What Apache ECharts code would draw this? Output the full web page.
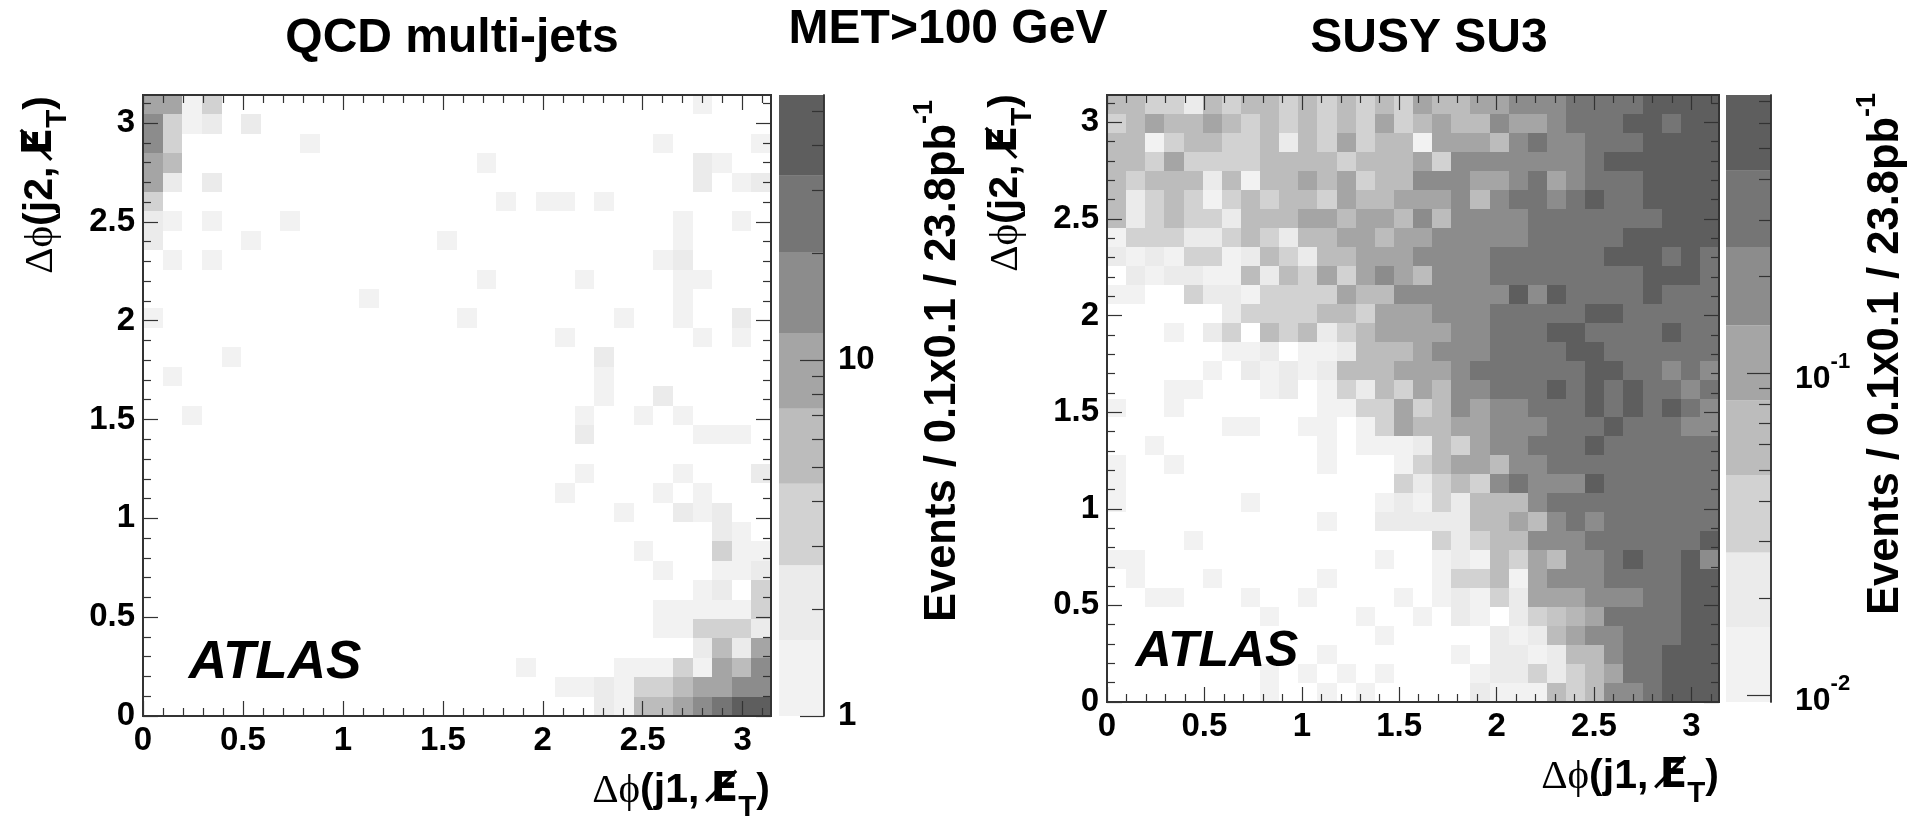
<!DOCTYPE html>
<html><head><meta charset="utf-8">
<style>html,body{margin:0;padding:0;background:#fff}#c{width:1927px;height:827px}</style>
<script src="https://cdn.jsdelivr.net/npm/echarts@6/dist/echarts.min.js"></script>
</head><body><div id="c"></div>
<script>
// Grey shade of each contour band (0 = empty bin)
const bandShades = [255, 242, 235, 210, 188, 165, 140, 117, 94];
const binCount = 32;
const phiMax = Math.PI;
const majorTicks = [0, 0.5, 1, 1.5, 2, 2.5, 3];
const minorTicks = [0.1,0.2,0.3,0.4,0.6,0.7,0.8,0.9,1.1,1.2,1.3,1.4,1.6,1.7,1.8,1.9,2.1,2.2,2.3,2.4,2.6,2.7,2.8,2.9,3.1];

// QCD: non-empty bins as [column, row from top, band]
const qcdBins = [
[0,0,5],[1,0,5],[2,0,1],[3,0,3],[28,0,1],
[0,1,6],[1,1,3],[2,1,1],[3,1,2],[5,1,2],
[0,2,6],[1,2,3],[8,2,1],[26,2,1],[31,2,1],
[0,3,5],[1,3,4],[17,3,1],[28,3,2],[29,3,1],
[0,4,5],[1,4,2],[3,4,2],[28,4,2],[30,4,1],[31,4,2],
[0,5,3],[18,5,1],[20,5,1],[21,5,1],[23,5,1],
[0,6,2],[1,6,1],[3,6,1],[7,6,1],[27,6,1],[30,6,1],
[0,7,2],[5,7,1],[15,7,1],[27,7,1],
[1,8,1],[3,8,1],[26,8,1],[27,8,2],
[17,9,1],[22,9,1],[27,9,1],[28,9,1],
[11,10,1],[27,10,1],
[0,11,1],[16,11,1],[24,11,1],[27,11,1],[30,11,2],
[21,12,1],[28,12,1],[30,12,1],
[4,13,1],[23,13,2],
[1,14,1],[23,14,1],
[23,15,1],[26,15,2],
[2,16,1],[22,16,1],[25,16,1],[27,16,1],
[22,17,2],[28,17,1],[29,17,1],[30,17,1],
[22,19,1],[27,19,1],[31,19,2],
[21,20,1],[26,20,1],[28,20,1],
[24,21,1],[27,21,2],[28,21,1],[29,21,2],
[29,22,2],[30,22,1],
[25,23,1],[29,23,3],[30,23,1],[31,23,1],
[26,24,1],[29,24,1],[30,24,1],[31,24,2],
[28,25,1],[29,25,2],[31,25,3],
[26,26,1],[27,26,1],[28,26,1],[29,26,1],[30,26,1],[31,26,3],
[26,27,1],[27,27,1],[28,27,3],[29,27,3],[30,27,3],[31,27,2],
[28,28,2],[29,28,4],[30,28,2],[31,28,5],
[19,29,1],[24,29,1],[25,29,1],[26,29,1],[27,29,3],[28,29,1],[29,29,5],[30,29,4],[31,29,6],
[21,30,1],[22,30,1],[23,30,2],[24,30,1],[25,30,3],[26,30,3],[27,30,4],[28,30,5],[29,30,5],[30,30,6],[31,30,6],
[23,31,2],[24,31,1],[25,31,4],[26,31,4],[27,31,5],[28,31,6],[29,31,7],[30,31,8],[31,31,8]
];

// SUSY: band of every bin, top row first
const susyRows = [
[4,4,3,3,2,4,3,4,4,3,4,3,4,3,4,3,5,4,4,5,5,6,6,6,7,7,7,7,8,8,8,8],
[3,4,5,4,4,5,4,3,4,3,4,3,4,3,5,3,4,5,4,4,6,5,5,6,7,7,7,8,8,7,8,8],
[4,4,1,3,4,4,3,3,4,2,4,3,5,3,4,4,1,5,5,5,4,6,7,6,6,7,7,7,8,8,8,8],
[4,4,3,5,3,3,3,3,4,4,4,4,3,4,4,4,5,3,6,6,6,6,6,6,6,7,8,8,8,8,8,8],
[4,3,4,4,4,2,4,1,4,4,5,4,5,3,4,4,6,6,6,5,5,6,7,5,6,7,7,7,8,8,8,8],
[4,2,3,4,3,1,3,4,3,4,4,3,5,4,4,5,5,5,6,4,6,7,7,6,7,8,7,7,8,8,8,8],
[4,2,3,4,3,3,2,4,4,4,5,5,4,5,5,4,6,4,6,6,6,6,7,7,7,7,7,7,7,8,8,8],
[1,3,3,3,2,2,3,4,3,2,4,4,5,5,4,5,5,6,6,6,6,6,7,7,7,7,7,8,8,8,8,8],
[2,1,2,1,3,3,1,2,4,3,2,4,4,5,5,5,6,6,6,6,7,7,7,7,7,7,8,8,8,7,8,7],
[0,2,1,2,2,1,1,4,2,4,3,5,3,5,6,5,4,6,6,6,7,7,7,7,7,7,7,7,8,8,8,7],
[1,1,0,0,3,2,2,1,3,3,3,3,5,4,4,6,6,6,6,6,6,8,6,8,7,7,7,7,8,7,7,7],
[0,0,0,0,0,0,2,3,3,3,3,4,4,3,5,5,5,6,6,6,7,7,7,7,7,8,8,7,7,7,7,7],
[0,0,0,1,0,2,3,0,4,3,4,2,3,4,5,5,5,5,6,6,7,7,7,8,8,7,7,7,7,8,7,7],
[0,0,0,0,0,0,1,1,2,0,1,1,2,4,4,4,5,6,6,6,7,7,7,7,8,8,7,7,7,7,7,7],
[0,0,0,0,0,1,0,2,1,2,1,2,4,4,4,5,5,5,6,7,7,7,7,7,7,8,8,7,7,6,7,6],
[0,0,0,1,1,0,0,0,1,2,0,1,3,2,4,3,5,4,6,6,7,7,7,8,7,8,7,8,7,7,6,7],
[1,0,0,1,0,0,0,0,0,0,0,1,1,3,3,5,3,4,6,5,6,6,7,7,7,8,7,8,7,8,7,6],
[0,0,0,0,0,0,1,1,0,0,1,1,0,1,3,5,4,4,5,5,6,6,6,7,7,7,8,7,7,7,6,6],
[0,0,1,0,0,0,0,0,0,0,0,1,0,1,1,1,2,4,3,5,6,6,7,7,7,8,7,7,7,7,7,7],
[1,0,0,1,0,0,0,0,0,0,0,1,0,0,0,1,3,4,5,5,4,6,6,7,7,7,7,7,7,7,7,7],
[1,0,0,0,0,0,0,0,0,0,0,0,0,0,0,3,2,3,4,3,6,7,6,6,6,8,7,7,7,7,7,7],
[1,0,0,0,0,0,0,1,0,0,0,0,0,0,1,2,1,3,2,4,4,4,6,7,7,7,7,7,7,7,7,7],
[0,0,0,0,0,0,0,0,0,0,0,1,0,0,2,2,2,2,2,4,4,5,4,6,7,6,7,7,7,7,7,7],
[0,0,0,0,1,0,0,0,0,0,0,0,0,0,0,0,0,3,2,3,4,4,6,6,6,7,7,7,7,7,7,8],
[1,1,0,0,0,0,0,0,0,0,0,0,0,0,1,0,0,1,2,1,4,3,5,4,6,6,7,8,7,7,8,6],
[0,1,0,0,0,1,0,0,0,0,0,1,0,0,0,0,0,1,3,3,4,1,5,6,6,6,7,7,7,7,8,8],
[0,0,1,1,0,0,0,1,0,0,1,0,0,0,0,1,0,1,2,1,3,2,5,5,5,6,6,6,7,7,8,8],
[0,0,0,0,0,0,0,0,1,0,0,0,0,1,0,0,1,0,2,1,0,2,3,3.6,4.2,5,7,7,7,7,8,8],
[0,0,0,0,0,0,0,0,0,0,0,0,0,0,1,0,0,0,0,0,2,1,2,4,5,6,6,7,7,7,8,8],
[0,0,0,0,0,0,0,0,0,0,0,1,0,0,0,0,0,0,1,0,2,2,1,2,4,4,6,7,7,8,8,8],
[0,0,0,0,0,0,0,0,1,0,1,0,1,0,1,0,0,0,0,1,2,2,3,2,3,4,5,7,7,8,8,8],
[0,0,0,0,0,0,0,0,1,0,0,1,0,1,0,0,0,0,0,2,1,1,1,4,3,4,6,6,7,8,8,8]
];

// Colour-bar contour edges in events per bin
const qcdEdges = [1, 1.63, 2.65, 4.49, 7.3, 11.9, 20.1, 32.9, 55.5];
const susyEdges = [0.0095, 0.0162, 0.0277, 0.0481, 0.0822, 0.141, 0.247, 0.426, 0.733];
const qcdMajorTicks = [1, 10];
const qcdMinorTicks = [2,3,4,5,6,7,8,9,20,30,40,50];
const susyMajorTicks = [0.01, 0.1];
const susyMinorTicks = [0.02,0.03,0.04,0.05,0.06,0.07,0.08,0.09,0.2,0.3,0.4,0.5,0.6,0.7];

const FONT = '"Liberation Sans", Arial, sans-serif';
const INK = '#333';
const shade = b => { const i = Math.floor(b), f = b - i;
  const g = Math.round(bandShades[i] + (i < 8 ? (bandShades[i+1] - bandShades[i]) * f : 0));
  return `rgb(${g},${g},${g})`; };

const layout = {
  qcd:  {left:143, top:95, width:628, height:621},
  susy: {left:1107, top:95, width:612, height:607},
  qcdBar:  {left:779, top:95, width:45, height:621},
  susyBar: {left:1726, top:95, width:45, height:607}
};
const grids = [layout.qcd, layout.qcd, layout.susy, layout.susy,
               layout.qcdBar, layout.qcdBar, layout.susyBar, layout.susyBar];

const line = {show:true, onZero:false, lineStyle:{color:INK, width:2}};
const tickOf = (vals, len) => ({show:true, inside:true, length:len, customValues:vals, lineStyle:{color:INK, width:1.2}});
const labelStyle = {fontFamily:FONT, fontWeight:'bold', fontSize:33, color:'#000'};

function plotAxes(grid, ticks, len, labelled, pos1, pos2) {
  const base = {type:'value', min:0, max:phiMax, gridIndex:grid, z:5, splitLine:{show:false}, axisLine:line, axisTick:tickOf(ticks,len)};
  return [
    {...base, position:pos1, axisLabel: labelled ? {...labelStyle, show:true, customValues:ticks, margin:8} : {show:false}},
    {...base, position:pos2, axisLabel:{show:false}}
  ];
}
const xAxes = [], yAxes = [];
[[0,majorTicks,15,true],[1,minorTicks,8,false],[2,majorTicks,15,true],[3,minorTicks,8,false]].forEach(([g,t,l,lab])=>{
  xAxes.push(...plotAxes(g,t,l,lab,'bottom','top'));
  yAxes.push(...plotAxes(g,t,l,lab,'left','right'));
});
function barAxes(g, edges, major, minor, fmt, rich, margin) {
  const lo = Math.log10(edges[0]), hi = Math.log10(edges[8]);
  [[g,major,24,true],[g+1,minor,12,false]].forEach(([gi,vals,len,lab])=>{
    const lv = vals.map(Math.log10);
    const xb = {type:'value', min:0, max:1, gridIndex:gi, show:false};
    xAxes.push(xb, {...xb});
    const yb = {type:'value', min:lo, max:hi, gridIndex:gi, z:5, splitLine:{show:false}};
    yAxes.push(
      {...yb, position:'right', axisLine:{show:true,onZero:false,lineStyle:{color:INK,width:1.5}}, axisTick:tickOf(lv,len),
       axisLabel: lab ? {...labelStyle, show:true, margin, customValues:lv, formatter:fmt, rich} : {show:false}},
      {...yb, position:'left', show:false});
  });
}
barAxes(4, qcdEdges, qcdMajorTicks, qcdMinorTicks, v => String(Math.round(Math.pow(10,v))), undefined, 14);
barAxes(6, susyEdges, susyMajorTicks, susyMinorTicks, v => `{b|10}{e|${Math.round(v)}}`,
  {b:{...labelStyle, fontSize:32, verticalAlign:'bottom', lineHeight:44},
   e:{...labelStyle, fontSize:22, verticalAlign:'top', lineHeight:22, fontWeight:'bold'}}, 24);

const cellItem = (params, api) => {
  const b = api.value(2); if (!b) return null;
  const w = phiMax / binCount, c = api.value(0), r = api.value(1);
  const p0 = api.coord([c*w, phiMax - r*w]), p1 = api.coord([(c+1)*w, phiMax - (r+1)*w]);
  const x = Math.round(p0[0]), y = Math.round(p0[1]);
  return {type:'rect', shape:{x, y, width:Math.round(p1[0])-x, height:Math.round(p1[1])-y}, style:{fill:shade(b)}};
};
const barItem = (params, api) => {
  const a = api.coord([0, api.value(0)]), b = api.coord([1, api.value(1)]);
  return {type:'rect', shape:{x:a[0], y:b[1], width:b[0]-a[0], height:a[1]-b[1]}, style:{fill:shade(api.value(2))}};
};
const susyBins = [];
susyRows.forEach((row,r)=>row.forEach((b,c)=>{ if(b) susyBins.push([c,r,b]); }));
const barData = edges => edges.slice(0,8).map((e,i)=>[Math.log10(e), Math.log10(edges[i+1]), i+1]);
const custom = (idx, renderItem, data) => ({type:'custom', xAxisIndex:idx, yAxisIndex:idx, renderItem, data, silent:true, clip:true, z:2, encode:{x:0,y:1}});

// Rich-text axis names
const nameRich = size => ({
  d:{fontFamily:'"Liberation Serif", serif', fontSize:size, fontWeight:'normal', fill:'#000', verticalAlign:'top', lineHeight:size*1.1},
  b:{fontFamily:FONT, fontSize:size, fontWeight:'bold', fill:'#000', verticalAlign:'top', lineHeight:size*1.1},
  f:{fontFamily:'"DejaVu Sans", sans-serif', fontSize:size*0.98, fontWeight:'bold', fill:'#000', verticalAlign:'top', lineHeight:size*1.1},
  s:{fontFamily:FONT, fontSize:size*0.72, fontWeight:'bold', fill:'#000', verticalAlign:'top', lineHeight:size*0.8, padding:[size*0.55,0,0,0]},
  e:{fontFamily:FONT, fontSize:size*0.62, fontWeight:'bold', fill:'#000', verticalAlign:'top', lineHeight:size*0.7}
});
const axisNameText = (j, x, y, rot) => ({type:'text', x, y, rotation:rot, z:10, silent:true, style:{
  text:`{d|\u0394\u03d5}{b|(j${j}, }{f|E\u0338}{s|T}{b|)}`, rich:nameRich(41), align:'center', verticalAlign:'middle', textAlign:'center', textVerticalAlign:'middle'}});
const zNameText = (x, y) => ({type:'text', x, y, rotation:Math.PI/2, z:10, silent:true, style:{
  text:'{b|Events / 0.1x0.1 / 23.8pb}{e|-1}', rich:{b:{...nameRich(43.5).b, padding:[10,0,0,0]}, e:nameRich(27).b}, align:'center', verticalAlign:'middle', textAlign:'center', textVerticalAlign:'middle'}});

const titleOf = (text, x, y, size, style) => ({text, left:x, top:y, textAlign:'center', textVerticalAlign:'middle', padding:0,
  textStyle:{fontFamily:FONT, fontWeight:'bold', fontStyle:style||'normal', fontSize:size, color:'#000'}});

const chart = echarts.init(document.getElementById('c'), null, {renderer:'canvas'});
chart.setOption({
  animation:false, backgroundColor:'#fff', tooltip:{show:false},
  title:[
    titleOf('QCD multi-jets', 452, 39, 48),
    titleOf('MET>100 GeV', 948, 30, 48),
    titleOf('SUSY SU3', 1429, 39, 48),
    titleOf('ATLAS', 275, 663, 53, 'italic'),
    titleOf('ATLAS', 1217, 652, 50, 'italic')
  ],
  grid: grids.map(g=>({...g, containLabel:false})),
  xAxis:xAxes, yAxis:yAxes,
  series:[
    custom(0, cellItem, qcdBins),
    custom(4, cellItem, susyBins),
    custom(8, barItem, barData(qcdEdges)),
    custom(12, barItem, barData(susyEdges))
  ],
  graphic:{elements:[
    axisNameText(1, 681, 793, 0),
    axisNameText(1, 1630, 779, 0),
    axisNameText(2, 43, 185, Math.PI/2),
    axisNameText(2, 1008, 183, Math.PI/2),
    zNameText(935, 361),
    zNameText(1878, 354)
  ]}
});
</script></body></html>
